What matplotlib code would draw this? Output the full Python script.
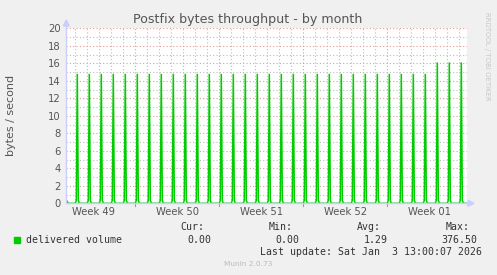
import matplotlib
matplotlib.use("Agg")
import matplotlib.pyplot as plt
from matplotlib.lines import Line2D
from matplotlib.patches import Rectangle

# ---- data ----
# day index (days since start of Week 49) of each daily spike; spike occurs ~4h after midnight
spike_days = [2, 3, 4, 5, 6, 7, 8, 9, 10, 11, 12, 13, 14, 15, 16, 17, 18,
              19, 20, 21, 22, 23, 24, 25, 26, 27, 28, 29, 30, 31, 32, 33, 34]
spike_peaks = [14.8, 14.8, 14.8, 14.8, 14.8, 14.8, 14.8, 14.8, 14.8, 14.8, 14.8,
               14.8, 14.8, 14.8, 14.8, 14.8, 14.8, 14.8, 14.8, 14.8, 14.8, 14.8,
               14.8, 14.8, 14.8, 14.8, 14.8, 14.8, 14.8, 14.8, 16.1, 16.1, 16.1]
spike_shoulders = [0.35, 0.35, 0.35, 0.35, 0.35, 0.35, 0.35, 0.35, 0.35, 0.35, 0.35,
                   0.35, 0.35, 0.35, 0.35, 0.35, 0.35, 0.35, 0.35, 0.35, 0.35, 0.35,
                   0.35, 0.35, 0.35, 0.35, 0.35, 0.35, 0.35, 0.35, 0.35, 0.35, 0.35]
spike_hour = 4.0
week_labels = ["Week 49", "Week 50", "Week 51", "Week 52", "Week 01"]
week_starts = [0, 7, 14, 21, 28]
y_ticks = [0, 2, 4, 6, 8, 10, 12, 14, 16, 18, 20]

title = "Postfix bytes throughput - by month"
ylabel = "bytes / second"
series_name = "delivered volume"
stat_heads = ["Cur:", "Min:", "Avg:", "Max:"]
stat_vals = ["0.00", "0.00", "1.29", "376.50"]
last_update = "Last update: Sat Jan  3 13:00:07 2026"
footer = "Munin 2.0.73"
side_text = "RRDTOOL / TOBI OETIKER"

# ---- build line ----
xs = [1.25, 1.30, 1.40]
ys = [0.0, 0.3, 0.0]
step = 1.0 / 12.0
for d, p, s in zip(spike_days, spike_peaks, spike_shoulders):
    t = d + spike_hour / 24.0
    xs += [t - 2 * step, t - step, t, t + step, t + 2 * step]
    ys += [0.0, s, p, s, 0.0]
xs.append(34.64)
ys.append(0.0)

W, H = 497, 275
fig = plt.figure(figsize=(W / 100, H / 100), dpi=100)
fig.patch.set_facecolor("#f0f0f0")

L, R, T, B = 66.3, 467.0, 28.3, 203.3
ax = fig.add_axes([L / W, 1 - B / H, (R - L) / W, (B - T) / H])
ax.set_facecolor("white")
ax.set_xlim(1.25, 34.64)
ax.set_ylim(0, 20)

# grid
dot = (0, (1, 2))
major_c = "#e09a9a"
minor_c = "#bdbdbd"
for yv in range(1, 21):
    c = major_c if yv % 2 == 0 else minor_c
    ax.axhline(yv, color=c, lw=0.8, ls=dot, zorder=1)
for dv in range(2, 35):
    c = major_c if dv % 7 == 0 else minor_c
    ax.axvline(dv, color=c, lw=0.8, ls=dot, zorder=1)

ax.plot(xs, ys, color="#00cc00", lw=1.1, zorder=3, solid_joinstyle="miter")

for sp in ax.spines.values():
    sp.set_visible(False)

ax.set_yticks(y_ticks)
ax.set_yticklabels([str(v) for v in y_ticks])
ax.set_xticks([w + 3.5 for w in week_starts])
ax.set_xticklabels(week_labels)
ax.tick_params(axis="both", length=0, labelsize=7.2, colors="#555555", pad=3)
ax.tick_params(axis="y", pad=4)
# red week ticks on bottom
for w in week_starts:
    if w > 1.25:
        ax.plot([w, w], [-0.35, 0], color="#e08080", lw=0.8, clip_on=False, zorder=4)

# axes lines with arrows
axis_col = "#ccccff"
fig.add_artist(Line2D([L / W, L / W], [1 - B / H, 1 - 22 / H], color=axis_col, lw=1.0))
fig.add_artist(Line2D([L / W, 471 / W], [1 - B / H, 1 - B / H], color=axis_col, lw=1.0))
fig.patches.append(plt.Polygon([[(L - 3) / W, 1 - 26 / H], [(L + 3) / W, 1 - 26 / H],
                                 [L / W, 1 - 20 / H]], closed=True,
                                transform=fig.transFigure, color=axis_col, figure=fig))
fig.patches.append(plt.Polygon([[468 / W, 1 - (B - 3) / H], [468 / W, 1 - (B + 3) / H],
                                 [474 / W, 1 - B / H]], closed=True,
                                transform=fig.transFigure, color=axis_col, figure=fig))

# texts
fig.text(248 / W, 1 - 19 / H, title, ha="center", va="center", fontsize=9.1, color="#555555")
fig.text(11 / W, 1 - 115 / H, ylabel, ha="center", va="center", rotation=90,
         fontsize=8.0, color="#555555")
fig.text(487 / W, 1 - 12 / H, side_text, ha="center", va="top", rotation=270,
         fontsize=5.0, color="#c8c8c8")

mono = "DejaVu Sans Mono"
fig.patches.append(Rectangle((14 / W, 1 - 243 / H), 6 / W, 6 / H,
                             transform=fig.transFigure, color="#00cc00", figure=fig))
fig.text(26 / W, 1 - 240 / H, series_name, ha="left", va="center", family=mono,
         fontsize=7.1, color="#333333")
head_right = [204, 293, 381, 470]
val_right = [211, 299, 388, 477]
for h, v, hr, vr in zip(stat_heads, stat_vals, head_right, val_right):
    fig.text(hr / W, 1 - 227 / H, h, ha="right", va="center", family=mono,
             fontsize=7.1, color="#333333")
    fig.text(vr / W, 1 - 240 / H, v, ha="right", va="center", family=mono,
             fontsize=7.1, color="#333333")
fig.text(482 / W, 1 - 252 / H, last_update, ha="right", va="center", family=mono,
         fontsize=7.1, color="#333333")
fig.text(248 / W, 1 - 264 / H, footer, ha="center", va="center", fontsize=5.3,
         color="#bbbbbb")

fig.savefig("out.png", dpi=100, facecolor=fig.get_facecolor())
